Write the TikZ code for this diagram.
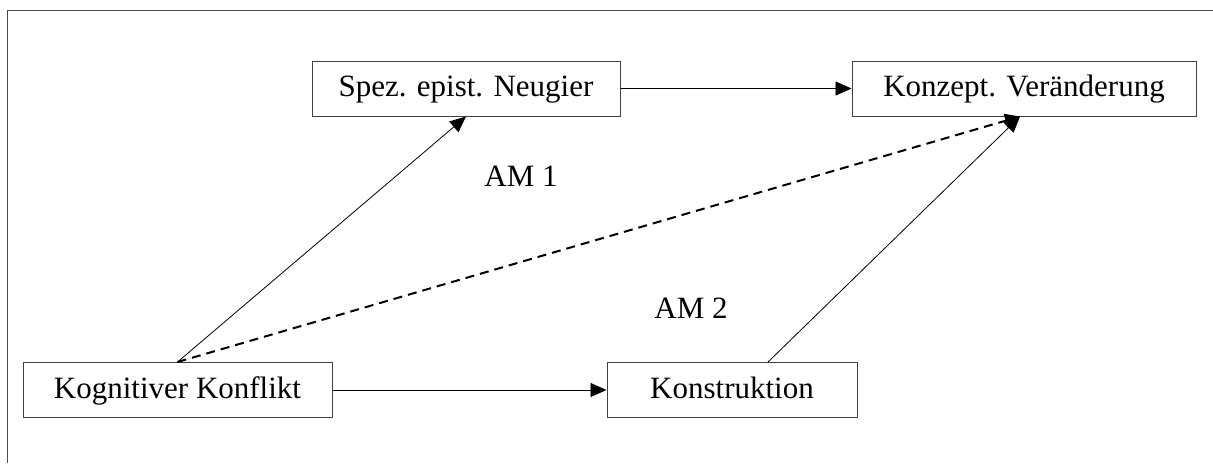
\documentclass[tikz,border=0pt]{standalone}
\usepackage{fontspec}
\setmainfont{Liberation Serif}
\usepackage{tikz}
\usetikzlibrary{arrows.meta,positioning}
\tikzset{%
	block/.style    = {draw=black!75, line width=0.5pt, rectangle, minimum height=27.5pt, text height=11pt, text depth=3pt, font=\fontsize{15.5}{18}\selectfont},
	label/.style    = {font=\fontsize{15.5}{18}\selectfont}, % AM labels
	arrow/.style    = {line width=0.4pt, -{Triangle[length=8pt,width=7pt]}},
	dasharrow/.style= {line width=1pt, dash pattern=on 4.5pt off 3pt, -{Triangle[length=7.5pt,width=7pt]}},
}
\begin{document}
\begin{tikzpicture}[node distance=1.5cm,auto]
		\useasboundingbox (0,0) rectangle (606.5pt,-231.5pt);
		\draw[black!70, line width=0.6pt] (606.5pt,-5.25pt) -| (3.75pt,-231.5pt);
		
		\node [block, minimum width=154.5pt] (kk) at (88.75pt,-195pt) {Kognitiver Konflikt};
		\node [block, minimum width=125pt] (kons) [right of=kk, node distance=277.25pt] {Konstruktion};
		\node [block, minimum width=154pt] (spez) at (233pt,-44.25pt) {Spez. epist. Neugier};
		\node [block, minimum width=172pt] (konz) [right of=spez, node distance=279pt] {Konzept. Ver\"anderung};
		
		\draw[arrow] (kk) -- (kons);
		\draw[arrow] (spez) -- (konz);
		\draw[arrow] (kk.north) -- (spez.south);
		\draw[dasharrow] (kk.north) -- ([xshift=-2pt]konz.south);
		\draw[arrow] ([xshift=18pt]kons.north) -- ([xshift=-2pt]konz.south);
		
		\node [label] (am1) at (260.5pt,-88pt) {AM 1};
		\node [label] (am2) at (345.5pt,-154pt) {AM 2};
		\end{tikzpicture}
\end{document}
